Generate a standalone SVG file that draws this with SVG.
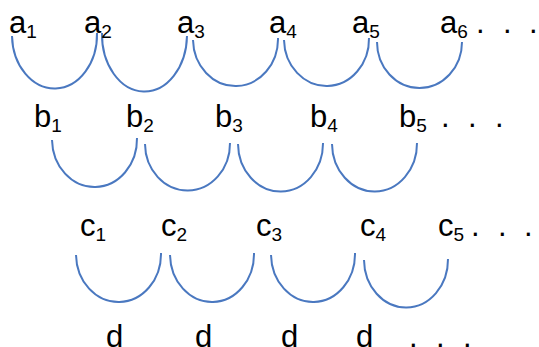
<svg xmlns="http://www.w3.org/2000/svg" width="539" height="347" viewBox="0 0 539 347">
<style>
text{font-family:"Liberation Sans",Arial,sans-serif;font-size:31px;fill:#000}
.s{font-size:19px}
.arc{fill:none;stroke:#4a78c0;stroke-width:2}
</style>
<rect width="539" height="347" fill="#fff"/>
<g id="connectors">
<path class="arc" d="M12 36 A42.5 54 0 0 0 97 33"/>
<path class="arc" d="M102 33 A42.5 57 0 0 0 187 36"/>
<path class="arc" d="M193 40 A42.5 47 0 0 0 278 38"/>
<path class="arc" d="M284 40 A42.5 47 0 0 0 369 38"/>
<path class="arc" d="M377 42 A42.5 46 0 0 0 462 42"/>
<path class="arc" d="M52 140 A42.5 48 0 0 0 137 138"/>
<path class="arc" d="M145 144 A42.5 47 0 0 0 230 143"/>
<path class="arc" d="M238 144 A42.5 48 0 0 0 323 143"/>
<path class="arc" d="M332 144 A42.5 48 0 0 0 417 143"/>
<path class="arc" d="M76 255 A42.5 48 0 0 0 161 253"/>
<path class="arc" d="M170 255 A42 48 0 0 0 254 253"/>
<path class="arc" d="M271 255 A42 48 0 0 0 355 253"/>
<path class="arc" d="M364 260 A42 48 0 0 0 448 259"/>
</g>
<g id="a1"><text x="9" y="33">a<tspan class="s" dy="5">1</tspan></text></g>
<g id="a2"><text x="84" y="33">a<tspan class="s" dy="5">2</tspan></text></g>
<g id="a3"><text x="177" y="33">a<tspan class="s" dy="5">3</tspan></text></g>
<g id="a4"><text x="269" y="33">a<tspan class="s" dy="5">4</tspan></text></g>
<g id="a5"><text x="352" y="33">a<tspan class="s" dy="5">5</tspan></text></g>
<g id="a6"><text x="440" y="33">a<tspan class="s" dy="5">6</tspan></text></g>
<g id="a-dots"><text x="476 503 529" y="33">...</text></g>
<g id="b1"><text x="34" y="127">b<tspan class="s" dy="5">1</tspan></text></g>
<g id="b2"><text x="126" y="127">b<tspan class="s" dy="5">2</tspan></text></g>
<g id="b3"><text x="215" y="127">b<tspan class="s" dy="5">3</tspan></text></g>
<g id="b4"><text x="310" y="127">b<tspan class="s" dy="5">4</tspan></text></g>
<g id="b5"><text x="399" y="127">b<tspan class="s" dy="5">5</tspan></text></g>
<g id="b-dots"><text x="441 468 495" y="127">...</text></g>
<g id="c1"><text x="80" y="236">c<tspan class="s" dy="5">1</tspan></text></g>
<g id="c2"><text x="161" y="236">c<tspan class="s" dy="5">2</tspan></text></g>
<g id="c3"><text x="256" y="236">c<tspan class="s" dy="5">3</tspan></text></g>
<g id="c4"><text x="360" y="236">c<tspan class="s" dy="5">4</tspan></text></g>
<g id="c5"><text x="438" y="236">c<tspan class="s" dy="5">5</tspan></text></g>
<g id="c-dots"><text x="471 498 524" y="236">...</text></g>
<g id="d1"><text x="106" y="347">d</text></g>
<g id="d2"><text x="195" y="347">d</text></g>
<g id="d3"><text x="281" y="347">d</text></g>
<g id="d4"><text x="356" y="347">d</text></g>
<g id="d-dots"><text x="409 436 463" y="347">...</text></g>
</svg>
